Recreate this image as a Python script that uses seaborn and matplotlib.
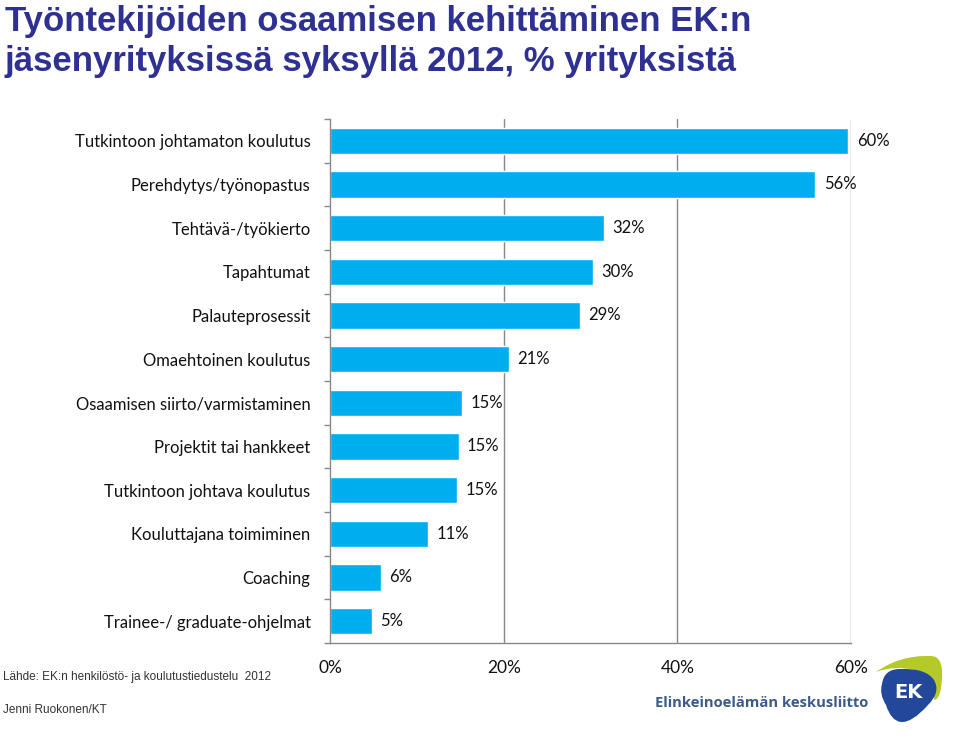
import matplotlib
matplotlib.use("Agg")
import matplotlib.pyplot as plt
import seaborn as sns
import pandas as pd
from matplotlib import font_manager as fm
from matplotlib.patches import PathPatch
from matplotlib.path import Path

categories = [
    "Tutkintoon johtamaton koulutus",
    "Perehdytys/työnopastus",
    "Tehtävä-/työkierto",
    "Tapahtumat",
    "Palauteprosessit",
    "Omaehtoinen koulutus",
    "Osaamisen siirto/varmistaminen",
    "Projektit tai hankkeet",
    "Tutkintoon johtava koulutus",
    "Kouluttajana toimiminen",
    "Coaching",
    "Trainee-/ graduate-ohjelmat",
]
values = [59.7, 55.9, 31.6, 30.3, 28.8, 20.6, 15.2, 14.8, 14.6, 11.3, 5.9, 4.8]
xticks = [0, 20, 40, 60]
xtick_labels = ["0%", "20%", "40%", "60%"]
title_lines = ["Työntekijöiden osaamisen kehittäminen EK:n",
               "jäsenyrityksissä syksyllä 2012, % yrityksistä"]
source_text = "Lähde: EK:n henkilöstö- ja koulutustiedustelu  2012"
author_text = "Jenni Ruokonen/KT"
org_text = "Elinkeinoelämän keskusliitto"

sns.set_theme(style="white")
names = {f.name for f in fm.fontManager.ttflist}
body_font = "Lato" if "Lato" in names else "DejaVu Sans"
title_font = "Liberation Sans Narrow" if "Liberation Sans Narrow" in names else "Liberation Sans"
plt.rcParams["font.family"] = [body_font, "DejaVu Sans"]

df = pd.DataFrame({"cat": categories, "val": values})

fig = plt.figure(figsize=(9.6, 7.39), dpi=100)
ax = fig.add_axes([330/960, 1-643/739, (851-330)/960, (643-119)/739])

sns.barplot(data=df, x="val", y="cat", color="#00AEEF", saturation=1,
            width=0.61, ax=ax, orient="h")

ax.set_xlim(0, 60)
ax.set_ylim(11.5, -0.5)
ax.set_xlabel("")
ax.set_ylabel("")
ax.set_xticks(xticks)
ax.set_xticklabels(xtick_labels, fontsize=12.5, color="#111111")
ax.tick_params(axis="x", direction="out", length=5, width=1, color="#888888", pad=7)
ax.tick_params(axis="y", which="major", length=0, pad=14, labelsize=12, labelcolor="#111111")
ax.set_yticks([i - 0.5 for i in range(13)], minor=True)
ax.tick_params(axis="y", which="minor", direction="out", length=4, width=1, color="#888888", left=True)

for x in [20, 40, 60]:
    ax.axvline(x, color="#888888", lw=1, zorder=0)

for s in ["top", "right"]:
    ax.spines[s].set_visible(False)
for s in ["left", "bottom"]:
    ax.spines[s].set_color("#888888")
    ax.spines[s].set_linewidth(1)

for c in ax.containers:
    ax.bar_label(c, labels=[f"{v:.0f}%" for v in values], padding=6,
                 fontsize=12, color="#111111")

# title
tfs = 25 if title_font == "Liberation Sans" else 29
fig.text(5/960, 1-21/739, title_lines[0], ha="left", va="center",
         fontsize=tfs, fontweight="bold", color="#2E3192", family=[title_font, "DejaVu Sans"])
fig.text(5/960, 1-61/739, title_lines[1], ha="left", va="center",
         fontsize=tfs, fontweight="bold", color="#2E3192", family=[title_font, "DejaVu Sans"])

# footer
fig.text(3/960, 1-677/739, source_text, ha="left", va="center", fontsize=8.5,
         color="#333333", family=["Liberation Sans", "DejaVu Sans"])
fig.text(3/960, 1-710/739, author_text, ha="left", va="center", fontsize=8.5,
         color="#333333", family=["Liberation Sans", "DejaVu Sans"])
fig.text(655/960, 1-703/739, org_text, ha="left", va="center", fontsize=10.6,
         color="#3C5A8A", fontweight="bold", family=["Open Sans", "DejaVu Sans"])

# logo approximation (quadratic-curve shapes in figure coords)
def fc(px, py):
    return (px/960, 1-py/739)

def curve_patch(start, segs, color):
    verts = [fc(*start)]
    codes = [Path.MOVETO]
    for ctrl, end in segs:
        verts += [fc(*ctrl), fc(*end)]
        codes += [Path.CURVE3, Path.CURVE3]
    verts.append(fc(*start))
    codes.append(Path.CLOSEPOLY)
    fig.patches.append(PathPatch(Path(verts, codes), transform=fig.transFigure,
                                 facecolor=color, edgecolor="none"))

curve_patch((876, 672), [((900, 655), (930, 656)),
                         ((946, 655), (941, 688)),
                         ((939, 700), (934, 700)),
                         ((936, 676), (915, 670)),
                         ((895, 665), (876, 672))], "#B5C928")
curve_patch((882, 684), [((884, 669), (900, 669)),
                         ((926, 668), (934, 680)),
                         ((941, 692), (928, 705)),
                         ((912, 723), (901, 722)),
                         ((891, 721), (886, 705)),
                         ((879, 694), (882, 684))], "#23479A")
fig.text(908/960, 1-692/739, "EK", ha="center", va="center", fontsize=14,
         fontweight="bold", color="white", family=["DejaVu Sans"])

fig.savefig("out.png", dpi=100, facecolor="white")
